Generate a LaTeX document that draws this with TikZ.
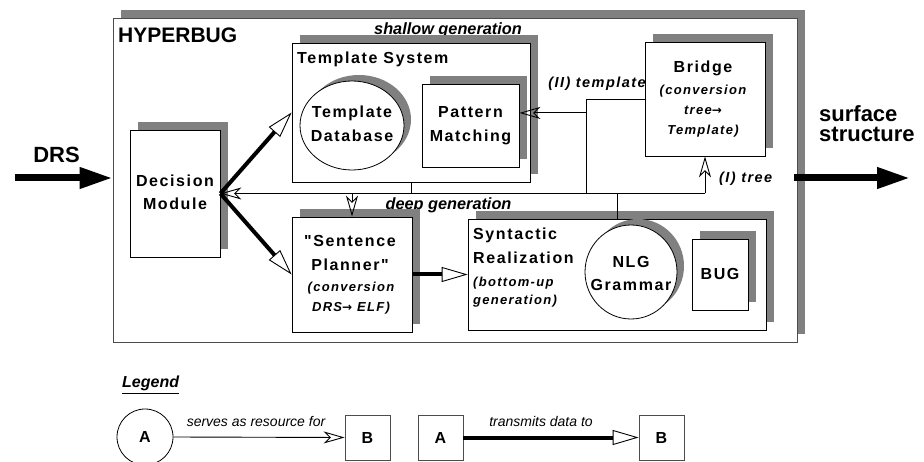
\documentclass[tikz,border=0pt]{standalone}
\usepackage{fontspec}
\setmainfont{Liberation Sans}
\newfontfamily\spacedsans[LetterSpace=10]{Liberation Sans}
\newfontfamily\arrowfont{DejaVu Sans}
\usetikzlibrary{arrows.meta,shapes.geometric,shadows,calc}
\definecolor{shadowgray}{HTML}{808080}
\newcommand\LabFont{\spacedsans\bfseries\fontsize{16}{18}\selectfont}
\newcommand\SubFont{\spacedsans\bfseries\itshape\fontsize{13}{16}\selectfont}
\newcommand\EdgeFont{\spacedsans\bfseries\itshape\fontsize{14.5}{16}\selectfont}
\newcommand\BigFont{\bfseries\fontsize{22}{26}\selectfont}
\newcommand\TitleFont{\bfseries\fontsize{21}{24}\selectfont}
\newcommand\GenFont{\bfseries\itshape\fontsize{16.3}{19}\selectfont}
\newcommand\LegFont{\itshape\fontsize{14}{17}\selectfont}
\newcommand\ToArrow{{\arrowfont\bfseries\fontsize{12}{14}\selectfont →}}
\begin{document}
\begin{tikzpicture}[x=1pt,y=-1pt,
  shadowed/.style={drop shadow={shadow xshift=8pt,shadow yshift=8pt,fill=shadowgray,opacity=1}},
  box/.style={draw=black,fill=white,line width=0.8pt,inner sep=0pt,shadowed},
  outerbox/.style={draw=black!70,fill=white,line width=0.9pt,inner sep=0pt,shadowed},
  ellbox/.style={ellipse,draw=black,fill=white,line width=0.8pt,inner sep=0pt,
     drop shadow={shadow xshift=7pt,shadow yshift=6pt,fill=shadowgray,opacity=1}},
  legbox/.style={draw=black!70,fill=white,line width=0.8pt,minimum width=45pt,minimum height=45pt,inner sep=0pt},
  txt/.style={inner sep=0pt,anchor=base},
  txtw/.style={inner sep=0pt,anchor=base west},
  bigarrow/.style={line width=7pt,-{Triangle[length=33pt,width=20pt]}},
  data/.style={line width=4pt,-{Triangle[open,length=26pt,width=15pt,line width=0.9pt]}},
  resource/.style={line width=0.9pt,-{Stealth[open,length=21pt,width=12pt,inset=6pt,line width=0.9pt]}},
  wire/.style={line width=0.9pt}
]
\useasboundingbox (0,0) rectangle (924,462);

% outer system
\node[outerbox,minimum width=684pt,minimum height=324pt] (hyper) at (455,180) {};
\node[txtw] (hyperlbl) at (118,43) {\TitleFont HYPERBUG};
\node[txt] (shallow) at (448,35) {\GenFont shallow generation};
\node[txt] (deep) at (448.5,210) {\GenFont deep generation};

% decision module
\node[box,minimum width=90pt,minimum height=127pt] (dm) at (175,193.5) {};
\node[txt] (dm1) at (175,187) {\LabFont Decision};
\node[txt] (dm2) at (175,210) {\LabFont Module};

% template system
\node[box,minimum width=238pt,minimum height=139pt] (ts) at (411,112.5) {};
\node[txtw] (tslbl) at (297,64) {\LabFont Template System};
\node[ellbox,minimum width=104pt,minimum height=89pt] (tdb) at (352,125.5) {};
\node[txt] (tdb1) at (352,118) {\LabFont Template};
\node[txt] (tdb2) at (352,142) {\LabFont Database};
\node[box,minimum width=97pt,minimum height=83pt] (pm) at (470.5,125.5) {};
\node[txt] (pm1) at (470.5,118) {\LabFont Pattern};
\node[txt] (pm2) at (470.5,142) {\LabFont Matching};

% bridge
\node[box,minimum width=120pt,minimum height=114pt] (br) at (705,99) {};
\node[txt] (br1) at (703,73) {\LabFont Bridge};
\node[txt] (br2) at (703,95) {\SubFont (conversion};
\node[txt] (br3) at (703,115) {\SubFont tree\ToArrow};
\node[txt] (br4) at (703,135) {\SubFont Template)};

% sentence planner
\node[box,minimum width=120pt,minimum height=115pt] (sp) at (352,274.5) {};
\node[txt] (sp1) at (350,247) {\LabFont "Sentence};
\node[txt] (sp2) at (350,271) {\LabFont Planner"};
\node[txt] (sp3) at (351,292) {\SubFont (conversion};
\node[txt] (sp4) at (351,312) {\SubFont DRS\ToArrow\ ELF)};

% syntactic realization
\node[box,minimum width=298pt,minimum height=111pt] (sr) at (617,274.5) {};
\node[txtw] (sr1) at (473,240) {\LabFont Syntactic};
\node[txtw] (sr2) at (473,264) {\LabFont Realization};
\node[txtw] (sr3) at (473,287) {\SubFont (bottom-up};
\node[txtw] (sr4) at (473,305) {\SubFont generation)};
\node[ellbox,minimum width=92pt,minimum height=94pt] (nlg) at (631,272) {};
\node[txt] (nlg1) at (631,268) {\LabFont NLG};
\node[txt] (nlg2) at (631,291) {\LabFont Grammar};
\node[box,minimum width=56pt,minimum height=71pt] (bug) at (720,274.5) {};
\node[txt] (bug1) at (720,280) {\LabFont BUG};

% outside labels
\node[txt] (drs) at (56.5,163) {\BigFont DRS};
\node[txtw] (surf1) at (819,122) {\BigFont surface};
\node[txtw] (surf2) at (819,142) {\BigFont structure};
\coordinate (drsL) at (15,178);
\coordinate (surfR) at (910,178);
\draw[bigarrow] (drsL) -- (drsL -| hyper.west);
\draw[bigarrow] ($(surfR -| hyper.east)+(-3,0)$) -- (surfR);

% data flow (thick)
\draw[data] (dm.east) -- (ts.west);
\draw[data] (dm.east) -- (sp.west);
\draw[data] (sp.east) -- (sr.west);

% resource wires
\coordinate (busR) at (br.south |- dm.east);
\coordinate (j1) at ($(br.west)+(-58,0)$);
\coordinate (pmin) at ($(pm.north east)!0.35!(pm.south east)$);
\draw[resource] (busR) -- (dm.east);
\draw[resource] (busR) -- (br.south);
\draw[wire] (ts.south) -- (ts.south |- busR);
\draw[wire] (sr.north) -- (sr.north |- busR);
\draw[resource] (sp.north |- busR) -- (sp.north);
\draw[wire] (br.west) -- (j1) -- (j1 |- busR);
\draw[resource] (j1) |- (pmin);
\node[txt] (tmpl) at (597,88) {\EdgeFont (II) template};
\node[txtw] (tree) at (719,183) {\EdgeFont (I) tree};

% legend
\node[txtw] (leg) at (122,388) {\bfseries\itshape\fontsize{16}{19}\selectfont\underline{Legend}};
\node[ellipse,draw=black,line width=0.8pt,minimum width=56pt,minimum height=56pt,inner sep=0pt] (la) at (145,437) {\LabFont A};
\node[legbox] (lb1) at (367.5,437.5) {\LabFont B};
\node[legbox] (la2) at (440.5,437.5) {\LabFont A};
\node[legbox] (lb2) at (661.5,437.5) {\LabFont B};
\draw[resource] (la.east) -- (lb1.west);
\draw[data] (la2.east) -- (lb2.west);
\node[txt] (serves) at (256,426) {\LegFont serves as resource for};
\node[txt] (trans) at (541,426) {\LegFont transmits data to};
\end{tikzpicture}
\end{document}
